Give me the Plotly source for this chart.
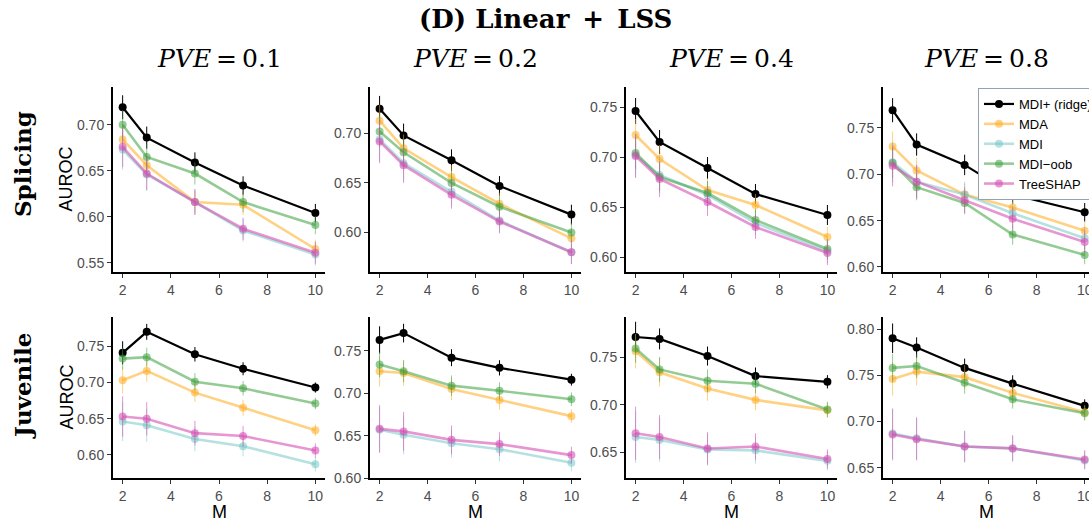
import plotly.graph_objects as go

# ---------------- data ----------------
M_values = [2, 3, 5, 7, 10]
methods = ["MDI+ (ridge)", "MDA", "MDI", "MDI\u2212oob", "TreeSHAP"]
pve_labels = ["0.1", "0.2", "0.4", "0.8"]
row_labels = ["Splicing", "Juvenile"]

# Splicing, PVE = 0.1
spl_01_mdip = [0.719, 0.686, 0.659, 0.634, 0.604]
spl_01_mda = [0.684, 0.656, 0.616, 0.613, 0.565]
spl_01_mdi = [0.673, 0.646, 0.616, 0.585, 0.559]
spl_01_oob = [0.700, 0.665, 0.647, 0.616, 0.591]
spl_01_shap = [0.676, 0.647, 0.616, 0.587, 0.561]
# Splicing, PVE = 0.2
spl_02_mdip = [0.725, 0.698, 0.673, 0.647, 0.618]
spl_02_mda = [0.713, 0.685, 0.656, 0.629, 0.594]
spl_02_mdi = [0.694, 0.670, 0.641, 0.612, 0.580]
spl_02_oob = [0.702, 0.681, 0.650, 0.626, 0.600]
spl_02_shap = [0.692, 0.668, 0.638, 0.611, 0.580]
# Splicing, PVE = 0.4
spl_04_mdip = [0.746, 0.715, 0.689, 0.663, 0.642]
spl_04_mda = [0.722, 0.698, 0.667, 0.652, 0.620]
spl_04_mdi = [0.702, 0.682, 0.662, 0.634, 0.606]
spl_04_oob = [0.704, 0.680, 0.664, 0.637, 0.608]
spl_04_shap = [0.701, 0.678, 0.655, 0.630, 0.604]
# Splicing, PVE = 0.8
spl_08_mdip = [0.769, 0.732, 0.710, 0.678, 0.659]
spl_08_mda = [0.730, 0.704, 0.678, 0.664, 0.639]
spl_08_mdi = [0.713, 0.692, 0.678, 0.658, 0.631]
spl_08_oob = [0.712, 0.686, 0.669, 0.635, 0.613]
spl_08_shap = [0.709, 0.692, 0.672, 0.652, 0.627]
# Juvenile, PVE = 0.1
juv_01_mdip = [0.741, 0.770, 0.739, 0.719, 0.693]
juv_01_mda = [0.703, 0.716, 0.686, 0.665, 0.634]
juv_01_mdi = [0.646, 0.641, 0.622, 0.612, 0.587]
juv_01_oob = [0.733, 0.735, 0.701, 0.692, 0.671]
juv_01_shap = [0.653, 0.650, 0.630, 0.626, 0.606]
# Juvenile, PVE = 0.2
juv_02_mdip = [0.763, 0.771, 0.742, 0.730, 0.716]
juv_02_mda = [0.726, 0.724, 0.705, 0.692, 0.673]
juv_02_mdi = [0.657, 0.651, 0.641, 0.634, 0.618]
juv_02_oob = [0.734, 0.726, 0.709, 0.703, 0.693]
juv_02_shap = [0.658, 0.655, 0.645, 0.640, 0.627]
# Juvenile, PVE = 0.4
juv_04_mdip = [0.771, 0.769, 0.751, 0.730, 0.724]
juv_04_mda = [0.756, 0.734, 0.717, 0.705, 0.694]
juv_04_mdi = [0.666, 0.663, 0.653, 0.652, 0.641]
juv_04_oob = [0.759, 0.737, 0.725, 0.722, 0.695]
juv_04_shap = [0.670, 0.666, 0.654, 0.656, 0.643]
# Juvenile, PVE = 0.8
juv_08_mdip = [0.790, 0.780, 0.758, 0.741, 0.717]
juv_08_mda = [0.746, 0.754, 0.748, 0.731, 0.710]
juv_08_mdi = [0.687, 0.682, 0.673, 0.671, 0.658]
juv_08_oob = [0.758, 0.760, 0.742, 0.724, 0.709]
juv_08_shap = [0.686, 0.681, 0.673, 0.671, 0.659]

# error bar half-widths (per row, per method)
spl_err_mdip = [0.013, 0.012, 0.011, 0.010, 0.010]
spl_err_mda = [0.016, 0.014, 0.012, 0.011, 0.010]
spl_err_mdi = [0.022, 0.018, 0.014, 0.012, 0.012]
spl_err_oob = [0.016, 0.014, 0.012, 0.011, 0.010]
spl_err_shap = [0.022, 0.018, 0.014, 0.012, 0.012]
juv_err_mdip = [0.016, 0.011, 0.010, 0.009, 0.007]
juv_err_mda = [0.018, 0.015, 0.013, 0.011, 0.008]
juv_err_mdi = [0.027, 0.023, 0.017, 0.014, 0.010]
juv_err_oob = [0.015, 0.013, 0.012, 0.010, 0.008]
juv_err_shap = [0.028, 0.023, 0.017, 0.014, 0.010]

# ---------------- assemble ----------------
panels = [
    [spl_01_mdip, spl_01_mda, spl_01_mdi, spl_01_oob, spl_01_shap],
    [spl_02_mdip, spl_02_mda, spl_02_mdi, spl_02_oob, spl_02_shap],
    [spl_04_mdip, spl_04_mda, spl_04_mdi, spl_04_oob, spl_04_shap],
    [spl_08_mdip, spl_08_mda, spl_08_mdi, spl_08_oob, spl_08_shap],
    [juv_01_mdip, juv_01_mda, juv_01_mdi, juv_01_oob, juv_01_shap],
    [juv_02_mdip, juv_02_mda, juv_02_mdi, juv_02_oob, juv_02_shap],
    [juv_04_mdip, juv_04_mda, juv_04_mdi, juv_04_oob, juv_04_shap],
    [juv_08_mdip, juv_08_mda, juv_08_mdi, juv_08_oob, juv_08_shap],
]
row_errs = [
    [spl_err_mdip, spl_err_mda, spl_err_mdi, spl_err_oob, spl_err_shap],
    [juv_err_mdip, juv_err_mda, juv_err_mdi, juv_err_oob, juv_err_shap],
]

colors = [
    "rgba(0,0,0,1)",
    "rgba(255,172,30,0.55)",
    "rgba(110,195,195,0.5)",
    "rgba(60,160,60,0.55)",
    "rgba(214,80,180,0.6)",
]

W, H = 1089, 519
col_px = [(113, 325), (370, 581), (626, 837), (883, 1089)]
row_px = [(87, 272), (317, 478)]
row_label_y = [164, 386]
x_ranges = [[1.6, 10.4], [1.6, 10.4], [1.6, 10.4], [1.6, 10.18]]
y_ranges = [
    [0.540, 0.741], [0.560, 0.747], [0.585, 0.770], [0.5946, 0.794],
    [0.568, 0.7905], [0.600, 0.790], [0.623, 0.792], [0.639, 0.813],
]

fig = go.Figure()
layout = {}
for p in range(8):
    r, c = divmod(p, 4)
    ax = "" if p == 0 else str(p + 1)
    for m in range(5):
        is_main = m == 0
        fig.add_trace(go.Scatter(
            x=M_values, y=panels[p][m],
            mode="lines+markers",
            name=methods[m],
            legendgroup=methods[m],
            showlegend=(p == 0),
            line=dict(color=colors[m], width=2.2 if is_main else 2.6),
            marker=dict(color=colors[m], size=8),
            error_y=dict(type="data", array=row_errs[r][m], visible=True,
                         color=colors[m], thickness=1, width=0),
            xaxis="x" + ax, yaxis="y" + ax,
        ))
    x0, x1 = col_px[c]
    y0, y1 = row_px[r]
    layout["xaxis" + ax] = dict(
        domain=[x0 / W, x1 / W], range=x_ranges[c], anchor="y" + ax,
        tickvals=[2, 4, 6, 8, 10], showline=True, linecolor="black", linewidth=2,
        ticks="outside", ticklen=4, tickcolor="#333333", tickwidth=1,
        tickfont=dict(size=14, color="#4D4D4D", family="Liberation Sans, Arial"),
        ticklabeloverflow="allow",
        showgrid=False, zeroline=False,
    )
    layout["yaxis" + ax] = dict(
        domain=[1 - y1 / H, 1 - y0 / H], range=y_ranges[p], anchor="x" + ax,
        dtick=0.05, tick0=0, tickformat=".2f", showline=True, linecolor="black",
        linewidth=2, ticks="outside", ticklen=4, tickcolor="#333333", tickwidth=1,
        tickfont=dict(size=14, color="#4D4D4D", family="Liberation Sans, Arial"),
        showgrid=False, zeroline=False,
    )

def ann(text, px, py, size, family, angle=0):
    return dict(text=text, x=px / W, y=1 - py / H, xref="paper", yref="paper",
                xanchor="center", yanchor="middle", showarrow=False, textangle=angle,
                font=dict(size=size, family=family, color="black"))

annotations = [ann("<b>(D) Linear\u2002+\u2002LSS</b>", 545, 19, 26, "DejaVu Serif")]
for c in range(4):
    cx = (col_px[c][0] + col_px[c][1]) / 2
    annotations.append(ann("<i>PVE</i>\u2009=\u2009" + pve_labels[c], cx, 58, 25,
                           "DejaVu Serif"))
    annotations.append(ann("M", cx, 512, 18, "Liberation Sans, Arial"))
for r in range(2):
    cy = (row_px[r][0] + row_px[r][1]) / 2
    annotations.append(ann("<b>" + row_labels[r] + "</b>", 22, row_label_y[r], 23,
                           "DejaVu Serif", -90))
    annotations.append(ann("AUROC", 66, cy, 18, "Liberation Sans, Arial", -90))

fig.update_layout(
    **layout,
    annotations=annotations,
    width=W, height=H,
    margin=dict(l=0, r=0, t=0, b=0, autoexpand=False),
    paper_bgcolor="white", plot_bgcolor="white",
    showlegend=True,
    legend=dict(x=978 / W, y=1 - 88 / H, xanchor="left", yanchor="top",
                bgcolor="white", bordercolor="#8FA3B5", borderwidth=1,
                font=dict(size=13, family="Liberation Sans, Arial", color="black"),
                itemwidth=30, tracegroupgap=0, traceorder="normal"),
)

fig.write_html(
    "out.html",
    config={"displayModeBar": False},
    post_script="document.body.style.margin='0';document.body.style.overflow='hidden';",
)
